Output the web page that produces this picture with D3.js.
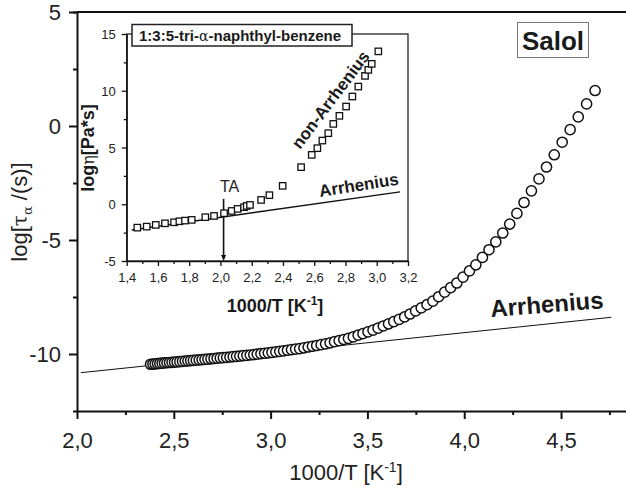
<!DOCTYPE html>
<html>
<head>
<meta charset="utf-8">
<script src="https://cdn.jsdelivr.net/npm/d3@7"></script>
<style>
  body { margin: 0; background: #fff; }
  svg { display: block; font-family: 'Liberation Sans', Arial, sans-serif; }
  .axis path, .axis line { stroke: #111; }
  .axis text { fill: #222; }
</style>
</head>
<body>
<div id="chart"></div>
<script>
/* global d3 */

// salol, log tau_alpha vs 1000/T
const salolX = [2.380, 2.392, 2.404, 2.416, 2.428, 2.440, 2.452, 2.465, 2.478, 2.491,
  2.504, 2.517, 2.531, 2.545, 2.559, 2.573, 2.587, 2.601, 2.616, 2.631,
  2.646, 2.661, 2.676, 2.692, 2.708, 2.724, 2.740, 2.756, 2.773, 2.790,
  2.807, 2.824, 2.841, 2.859, 2.877, 2.895, 2.913, 2.931, 2.950, 2.969,
  2.988, 3.007, 3.027, 3.047, 3.067, 3.087, 3.108, 3.129, 3.150, 3.172,
  3.194, 3.216, 3.238, 3.261, 3.284, 3.307, 3.330, 3.354, 3.378, 3.402,
  3.427, 3.452, 3.477, 3.503, 3.529, 3.555, 3.582, 3.609, 3.636, 3.664,
  3.692, 3.720, 3.749, 3.778, 3.808, 3.838, 3.868, 3.899, 3.930, 3.962,
  3.994, 4.027, 4.060, 4.094, 4.128, 4.163, 4.199, 4.235, 4.272, 4.309,
  4.347, 4.386, 4.425, 4.465, 4.506, 4.547, 4.589, 4.632, 4.676];
const salolY = [-10.450, -10.440, -10.431, -10.421, -10.412, -10.403, -10.393, -10.383, -10.373, -10.363,
  -10.353, -10.343, -10.332, -10.322, -10.311, -10.301, -10.290, -10.280, -10.269, -10.257,
  -10.245, -10.234, -10.222, -10.210, -10.197, -10.185, -10.173, -10.160, -10.146, -10.132,
  -10.118, -10.103, -10.089, -10.074, -10.058, -10.043, -10.025, -10.006, -9.987, -9.967,
  -9.948, -9.928, -9.907, -9.884, -9.860, -9.836, -9.811, -9.786, -9.761, -9.728,
  -9.694, -9.661, -9.627, -9.592, -9.555, -9.508, -9.461, -9.412, -9.363, -9.314,
  -9.249, -9.176, -9.104, -9.029, -8.954, -8.868, -8.771, -8.675, -8.579, -8.479,
  -8.376, -8.246, -8.111, -7.977, -7.838, -7.680, -7.488, -7.289, -7.091, -6.886,
  -6.627, -6.358, -6.087, -5.764, -5.427, -5.079, -4.694, -4.300, -3.835, -3.355,
  -2.845, -2.322, -1.798, -1.262, -0.712, -0.162, 0.400, 0.968, 1.556];

// 1:3:5-tri-alpha-naphthyl-benzene, log eta vs 1000/T
const tnbX = [1.468, 1.528, 1.586, 1.645, 1.703, 1.737, 1.773, 1.816, 1.903, 1.959,
  2.023, 2.072, 2.110, 2.151, 2.168, 2.189, 2.260, 2.313, 2.398,
  2.516, 2.584, 2.620, 2.652, 2.690, 2.722, 2.761, 2.804, 2.844, 2.882,
  2.925, 2.946, 2.968, 3.010];
const tnbY = [-2.06, -1.97, -1.82, -1.68, -1.59, -1.50, -1.44, -1.38, -1.14, -1.03,
  -0.79, -0.59, -0.41, -0.26, -0.15, -0.06, 0.38, 0.80, 1.62,
  3.27, 4.35, 4.94, 5.61, 6.26, 7.08, 7.79, 8.61, 9.49, 10.37,
  11.31, 11.84, 12.37, 13.47];

// Arrhenius lines (end points)
const mainArrX = [2.02, 4.76];
const mainArrY = [-10.82, -8.39];
const insetArrX = [1.432, 3.149];
const insetArrY = [-2.26, 1.09];
const taX = 2.02;
const taTop = 0.47;

const mainXTicks = [2, 2.5, 3, 3.5, 4, 4.5];
const mainXMinor = [2.25, 2.75, 3.25, 3.75, 4.25, 4.75];
const mainYTicks = [5, 0, -5, -10];
const mainYMinor = [2.5, -2.5, -7.5];
const insetXTicks = [1.4, 1.6, 1.8, 2.0, 2.2, 2.4, 2.6, 2.8, 3.0, 3.2];
const insetXMinor = [1.5, 1.7, 1.9, 2.1, 2.3, 2.5, 2.7, 2.9, 3.1];
const insetYTicks = [-5, 0, 5, 10, 15];
const insetYMinor = [-2.5, 2.5, 7.5, 12.5];

const width = 626;
const height = 489;
const comma = (d) => d3.format('.1f')(d).replace('.', ',');
const plain = (d) => String(d);   // keeps the hyphen minus of the original

const svg = d3.select('#chart').append('svg')
  .attr('width', width)
  .attr('height', height);

// ---- main plot
const xScale = d3.scaleLinear().domain([2, 4.85]).range([77, 628.8]);
const yScale = d3.scaleLinear().domain([-12.5, 5]).range([411, 12]);

// top frame
svg.append('line')
  .attr('x1', xScale(2)).attr('x2', xScale(4.85))
  .attr('y1', yScale(5)).attr('y2', yScale(5))
  .style('stroke', '#111').style('stroke-width', 2);

const xAxis = svg.append('g')
  .attr('class', 'axis')
  .attr('transform', `translate(0,${yScale(-12.5)})`)
  .call(d3.axisBottom(xScale).tickValues(mainXTicks).tickSize(8).tickSizeOuter(0).tickFormat(comma));
svg.append('g')
  .attr('class', 'axis')
  .attr('transform', `translate(0,${yScale(-12.5)})`)
  .call(d3.axisBottom(xScale).tickValues(mainXMinor).tickSize(4).tickSizeOuter(0).tickFormat(''))
  .select('.domain').remove();
xAxis.selectAll('path, line').style('stroke-width', 2);
xAxis.selectAll('text')
  .attr('y', 37).attr('dy', 0)
  .style('font-size', '22px');

const yAxis = svg.append('g')
  .attr('class', 'axis')
  .attr('transform', `translate(${xScale(2)},0)`)
  .call(d3.axisLeft(yScale).tickValues(mainYTicks).tickSize(8).tickSizeOuter(4).tickFormat(plain));
svg.append('g')
  .attr('class', 'axis')
  .attr('transform', `translate(${xScale(2)},0)`)
  .call(d3.axisLeft(yScale).tickValues(mainYMinor).tickSize(4).tickSizeOuter(0).tickFormat(''))
  .select('.domain').remove();
yAxis.selectAll('path, line').style('stroke-width', 2);
yAxis.selectAll('text')
  .attr('x', -16)
  .attr('dy', '0.36em')
  .style('font-size', '22px');
svg.selectAll('.axis line').style('stroke-width', 2);

// axis titles
const xTitle = svg.append('text')
  .attr('x', 346).attr('y', 480)
  .attr('text-anchor', 'middle')
  .style('font-size', '22px').style('fill', '#222');
xTitle.append('tspan').text('1000/T [K');
xTitle.append('tspan').attr('dy', -8).style('font-size', '14px').text('-1');
xTitle.append('tspan').attr('dy', 8).text(']');

const yTitle = svg.append('text')
  .attr('transform', 'translate(27,212) rotate(-90)')
  .attr('text-anchor', 'middle')
  .style('font-size', '22px').style('fill', '#222');
yTitle.append('tspan').text('log[');
yTitle.append('tspan').style('font-family', "'DejaVu Serif', serif").style('font-size', '20px').text('τ');
yTitle.append('tspan').attr('dy', 5).style('font-family', "'DejaVu Serif', serif").style('font-size', '13px').text('α');
yTitle.append('tspan').attr('dy', -5).text(' /(s)]');

// Arrhenius line
svg.append('line')
  .attr('x1', xScale(mainArrX[0])).attr('y1', yScale(mainArrY[0]))
  .attr('x2', xScale(mainArrX[1])).attr('y2', yScale(mainArrY[1]))
  .style('stroke', '#111').style('stroke-width', 1);

svg.append('text')
  .attr('transform', 'translate(491,317) rotate(-4.5)')
  .style('font-size', '24px').style('font-weight', 'bold').style('fill', '#1a1a1a')
  .text('Arrhenius');

// salol circles
svg.append('g')
  .selectAll('circle')
  .data(salolX.map((d, i) => [d, salolY[i]]))
  .enter()
  .append('circle')
  .attr('cx', (d) => xScale(d[0]))
  .attr('cy', (d) => yScale(d[1]))
  .attr('r', 5.1)
  .style('fill', '#fff')
  .style('stroke', '#111')
  .style('stroke-width', 1.5);

// Salol box
svg.append('rect')
  .attr('x', 517.5).attr('y', 22.5).attr('width', 71).attr('height', 35)
  .style('fill', '#fff').style('stroke', '#777').style('stroke-width', 1);
svg.append('text')
  .attr('x', 553).attr('y', 49.5)
  .attr('text-anchor', 'middle')
  .style('font-size', '26px').style('font-weight', 'bold').style('fill', '#1a1a1a')
  .text('Salol');

// ---- inset
const xInset = d3.scaleLinear().domain([1.4, 3.2]).range([126.7, 408]);
const yInset = d3.scaleLinear().domain([-5, 15]).range([261, 34]);

svg.append('rect')
  .attr('x', xInset(1.4)).attr('y', yInset(15))
  .attr('width', xInset(3.2) - xInset(1.4)).attr('height', yInset(-5) - yInset(15))
  .style('fill', '#fff').style('stroke', '#111').style('stroke-width', 1.2);

const ixAxis = svg.append('g')
  .attr('class', 'axis')
  .attr('transform', `translate(0,${yInset(-5)})`)
  .call(d3.axisBottom(xInset).tickValues(insetXTicks).tickSize(5).tickSizeOuter(0).tickFormat(comma));
const ixMinor = svg.append('g')
  .attr('class', 'axis')
  .attr('transform', `translate(0,${yInset(-5)})`)
  .call(d3.axisBottom(xInset).tickValues(insetXMinor).tickSize(3).tickSizeOuter(0).tickFormat(''));
ixMinor.select('.domain').remove();
ixAxis.selectAll('text')
  .attr('y', 21).attr('dy', 0)
  .style('font-size', '13px');

const iyAxis = svg.append('g')
  .attr('class', 'axis')
  .attr('transform', `translate(${xInset(1.4)},0)`)
  .call(d3.axisLeft(yInset).tickValues(insetYTicks).tickSize(5).tickSizeOuter(0).tickFormat(plain));
const iyMinor = svg.append('g')
  .attr('class', 'axis')
  .attr('transform', `translate(${xInset(1.4)},0)`)
  .call(d3.axisLeft(yInset).tickValues(insetYMinor).tickSize(3).tickSizeOuter(0).tickFormat(''));
iyMinor.select('.domain').remove();
iyAxis.selectAll('text')
  .attr('x', -11)
  .attr('dy', '0.36em')
  .style('font-size', '13px');

[ixAxis, iyAxis, ixMinor, iyMinor].forEach((g) => g.selectAll('path, line').style('stroke-width', 1.3));

// inset axis titles
const ixTitle = svg.append('text')
  .attr('x', 275).attr('y', 311.5)
  .attr('text-anchor', 'middle')
  .style('font-size', '18px').style('font-weight', 'bold').style('fill', '#1a1a1a');
ixTitle.append('tspan').text('1000/T [K');
ixTitle.append('tspan').attr('dy', -7).style('font-size', '12px').text('-1');
ixTitle.append('tspan').attr('dy', 7).text(']');

const iyTitle = svg.append('text')
  .attr('transform', 'translate(94,148) rotate(-90)')
  .attr('text-anchor', 'middle')
  .style('font-size', '18px').style('font-weight', 'bold').style('fill', '#1a1a1a');
iyTitle.append('tspan').text('log');
iyTitle.append('tspan').style('font-weight', 'normal').style('font-family', "'DejaVu Serif', serif").style('font-size', '16px').text('η');
iyTitle.append('tspan').text('[Pa*s]');

// inset Arrhenius line
svg.append('line')
  .attr('x1', xInset(insetArrX[0])).attr('y1', yInset(insetArrY[0]))
  .attr('x2', xInset(insetArrX[1])).attr('y2', yInset(insetArrY[1]))
  .style('stroke', '#111').style('stroke-width', 1.5);

// TA arrow
svg.append('line')
  .attr('x1', xInset(taX)).attr('x2', xInset(taX))
  .attr('y1', yInset(taTop)).attr('y2', yInset(-5) - 3)
  .style('stroke', '#111').style('stroke-width', 1.6);
svg.append('path')
  .attr('d', `M${xInset(taX) - 2.5},${yInset(-5) - 6}L${xInset(taX) + 2.5},${yInset(-5) - 6}L${xInset(taX)},${yInset(-5)}Z`)
  .style('fill', '#111');
svg.append('text')
  .attr('x', xInset(taX) + 6).attr('y', 192)
  .attr('text-anchor', 'middle')
  .style('font-size', '16px').style('fill', '#222')
  .text('TA');

// squares
svg.append('g')
  .selectAll('rect')
  .data(tnbX.map((d, i) => [d, tnbY[i]]))
  .enter()
  .append('rect')
  .attr('x', (d) => xInset(d[0]) - 3.2)
  .attr('y', (d) => yInset(d[1]) - 3.2)
  .attr('width', 6.4)
  .attr('height', 6.4)
  .style('fill', '#fff')
  .style('stroke', '#111')
  .style('stroke-width', 1.3);

// inset labels
svg.append('text')
  .attr('transform', 'translate(320,197) rotate(-9)')
  .style('font-size', '17px').style('font-weight', 'bold').style('fill', '#1a1a1a')
  .text('Arrhenius');
svg.append('text')
  .attr('transform', 'translate(300,150) rotate(-53)')
  .style('font-size', '17px').style('font-weight', 'bold').style('fill', '#1a1a1a')
  .text('non-Arrhenius');

// inset title box
svg.append('rect')
  .attr('x', 132).attr('y', 24.5).attr('width', 220).attr('height', 21.5)
  .style('fill', '#fff').style('stroke', '#222').style('stroke-width', 1.5);
const boxText = svg.append('text')
  .attr('x', 139).attr('y', 40.5)
  .style('font-size', '15px').style('font-weight', 'bold').style('fill', '#1a1a1a');
boxText.append('tspan').text('1:3:5-tri-');
boxText.append('tspan').style('font-weight', 'normal').style('font-family', "'DejaVu Serif', serif").style('font-size', '14px').text('α');
boxText.append('tspan').text('-naphthyl-benzene');
</script>
</body>
</html>
